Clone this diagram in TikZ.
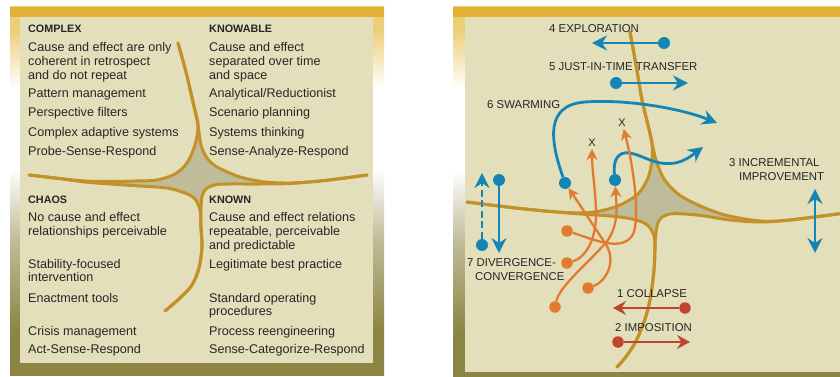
\documentclass[tikz,border=0pt]{standalone}
\usepackage{fontspec}
\setmainfont{Liberation Sans}
\usetikzlibrary{arrows.meta}
\definecolor{gold}{RGB}{226,178,52}
\definecolor{olive}{RGB}{140,133,68}
\definecolor{cream}{RGB}{227,223,186}
\definecolor{curvec}{RGB}{196,145,40}
\definecolor{starfill}{RGB}{190,188,153}
\definecolor{txt}{RGB}{38,38,38}
\definecolor{blu}{RGB}{20,134,181}
\definecolor{orng}{RGB}{226,122,48}
\definecolor{redd}{RGB}{192,68,48}
\definecolor{palegold}{RGB}{236,205,120}
\definecolor{greyolive}{RGB}{190,186,150}
\pgfdeclareverticalshading{sideshade}{100bp}{color(0bp)=(olive); color(31bp)=(olive); color(43bp)=(greyolive); color(53bp)=(white); color(64bp)=(white); color(72bp)=(palegold); color(100bp)=(palegold)}
\begin{document}
\begin{tikzpicture}[x=1pt,y=-1pt,
  goldline/.style={draw=curvec, line width=3pt, line cap=round, line join=round},
  body/.style={anchor=base west, align=left, inner sep=0pt, text=txt, font=\fontsize{12.6}{13.8}\selectfont},
  head/.style={anchor=base west, inner sep=0pt, text=txt, font=\bfseries\fontsize{10.8}{13}\selectfont},
  lab/.style={anchor=base west, inner sep=0pt, text=txt, font=\fontsize{11.4}{13.8}\selectfont},
  xlab/.style={inner sep=2pt, text=txt, font=\fontsize{11}{11}\selectfont},
  bdot/.style={circle, fill=blu, inner sep=0pt, minimum size=12pt},
  odot/.style={circle, fill=orng, inner sep=0pt, minimum size=11.5pt},
  rdot/.style={circle, fill=redd, inner sep=0pt, minimum size=11.5pt},
  barrow/.style={draw=blu, line width=2.8pt, -{Stealth[length=15pt,width=15pt,inset=5pt]}},
  bboth/.style={draw=blu, line width=2.8pt, {Stealth[length=15pt,width=15pt,inset=5pt]}-{Stealth[length=15pt,width=15pt,inset=5pt]}},
  oarrow/.style={draw=orng, line width=2.3pt, -{Stealth[length=11pt,width=11pt,inset=3.5pt]}},
  rarrow/.style={draw=redd, line width=2.8pt, -{Stealth[length=13pt,width=14pt,inset=4.5pt]}}
]
\useasboundingbox (0,0) rectangle (840,377);
\fill[white] (0,0) rectangle (840,377);
% ---------- left panel frame
\path[shading=sideshade] (10,7) rectangle (384,375);
\fill[gold] (10,7) rectangle (384,17);
\fill[olive] (10,363) rectangle (384,375);
\fill[cream] (20,17) rectangle (373,363);
% ---------- right panel frame
\path[shading=sideshade] (453,7) rectangle (840,377);
\fill[gold] (453,7) rectangle (840,17);
\fill[olive] (453,372) rectangle (840,377);
\fill[cream] (465,17) rectangle (840,372);

% ---------- left star
\fill[starfill] plot[smooth] coordinates {(85,182) (110,181.5) (135,181) (157,180) (175,174) (187,163) (195,145) (198,125)}
 -- plot[smooth] coordinates {(198,125) (201,145) (207,158) (217,167) (240,177) (265,182) (285,183)}
 -- plot[smooth] coordinates {(285,183.5) (260,184) (230,184) (217,184.5) (207,188) (202,196) (201,210) (201,228)}
 -- plot[smooth] coordinates {(201,228) (200,210) (195,199) (185,193) (167,188) (140,186) (110,184) (85,182)} -- cycle;
\draw[goldline] plot[smooth] coordinates {(29,175) (55,178) (85,181) (110,181.5) (135,181) (157,180) (175,174) (187,163) (195,145) (198,125) (193,102) (186,72) (178,43)};
\draw[goldline] plot[smooth] coordinates {(178,43) (186,72) (193,102) (198,125) (201,145) (207,158) (217,167) (240,177) (265,182) (290,183) (320,181) (345,178) (367,175)};
\draw[goldline] plot[smooth] coordinates {(29,175) (55,178) (85,182) (110,184) (140,186) (167,188) (185,193) (195,199) (200,210) (201,228) (202,247) (199,268) (192,285) (180,298) (165,311)};
\draw[goldline] plot[smooth] coordinates {(367,175) (345,178) (320,181) (290,183.5) (260,184) (230,184) (217,184.5) (207,188) (202,196) (201,210) (201,228) (202,247) (199,268) (192,285) (180,298) (165,311)};

% ---------- right star
\fill[starfill] plot[smooth] coordinates {(580,213) (600,211) (620,205) (638,194) (648,178) (652,160) (652,143)}
 -- plot[smooth] coordinates {(652,143) (656,160) (664,179) (678,194) (698,205) (725,215) (745,220)}
 -- plot[smooth] coordinates {(745,221) (730,220) (705,216) (685,214) (670,214) (661,218) (657,226) (655,245)}
 -- plot[smooth] coordinates {(655,245) (653,233) (646,224) (632,219) (610,216) (580,214)} -- cycle;
\draw[goldline] plot[smooth] coordinates {(630,32) (636,65) (642,100) (648,125) (652,143) (652,160) (648,178) (638,194) (620,205) (600,211) (580,213) (545,211) (507,207) (467,202)};
\draw[goldline] plot[smooth] coordinates {(630,32) (636,65) (642,100) (648,125) (652,143) (656,160) (664,179) (678,194) (698,205) (725,215) (760,221) (790,220) (845,213)};
\draw[goldline] plot[smooth] coordinates {(467,202) (507,207) (545,211) (580,214) (610,216) (632,219) (646,224) (653,233) (655,245) (654,270) (650,300) (644,322) (635,343) (625,358) (617,367)};
\draw[goldline] plot[smooth] coordinates {(845,213) (790,220) (760,222) (730,220) (705,216) (685,214) (670,214) (661,218) (657,226) (655,245) (654,270) (650,300) (644,322) (635,343) (625,358) (617,367)};

% ---------- left panel text (base = baseline of last line)
\node[head] (hcomplex) at (28,32.7) {COMPLEX};
\node[body] (c1) at (28,79.6) {Cause and effect are only\\coherent in retrospect\\and do not repeat};
\node[body] (c2) at (28,98) {Pattern management};
\node[body] (c3) at (28,117) {Perspective filters};
\node[body] (c4) at (28,136) {Complex adaptive systems};
\node[body] (c5) at (28,155) {Probe-Sense-Respond};
\node[head] (hknowable) at (209,32.7) {KNOWABLE};
\node[body] (k1) at (209,79.6) {Cause and effect\\separated over time\\and space};
\node[body] (k2) at (209,98) {Analytical/Reductionist};
\node[body] (k3) at (209,117) {Scenario planning};
\node[body] (k4) at (209,136) {Systems thinking};
\node[body] (k5) at (209,155) {Sense-Analyze-Respond};
\node[head] (hchaos) at (28,203) {CHAOS};
\node[body] (h1) at (28,235.5) {No cause and effect\\relationships perceivable};
\node[body] (h2) at (28,281.8) {Stability-focused\\intervention};
\node[body] (h3) at (28,302) {Enactment tools};
\node[body] (h4) at (28,335) {Crisis management};
\node[body] (h5) at (28,353) {Act-Sense-Respond};
\node[head] (hknown) at (209,203) {KNOWN};
\node[body] (n1) at (209,249.3) {Cause and effect relations\\repeatable, perceivable\\and predictable};
\node[body] (n2) at (209,268) {Legitimate best practice};
\node[body] (n3) at (209,315.8) {Standard operating\\procedures};
\node[body] (n4) at (209,335) {Process reengineering};
\node[body] (n5) at (209,353) {Sense-Categorize-Respond};

% ---------- right panel: blue
\node[bdot] (d4) at (664,43) {};
\coordinate (t4) at (592,43);
\draw[barrow] (d4) -- (t4);
\node[bdot] (d5) at (616,83) {};
\coordinate (t5) at (688,83);
\draw[barrow] (d5) -- (t5);
\node[bdot] (sw) at (565,183) {};
\coordinate (t6) at (717,123);
\draw[barrow] (sw) .. controls (550,140) and (545,105) .. (585,102) .. controls (625,99) and (680,108) .. (t6);
\node[bdot] (b2) at (615,180) {};
\coordinate (t6b) at (703,147);
\draw[barrow] (b2) .. controls (613,160) and (618,151) .. (630,153) .. controls (645,156) and (655,166) .. (675,163) .. controls (686,161) and (695,153) .. (t6b);
\coordinate (ia) at (815,189);
\coordinate (ib) at (815,253);
\draw[bboth] (ia) -- (ib);
\node[bdot] (dv) at (482,245) {};
\coordinate (dvt) at (482,173);
\draw[barrow, dash pattern=on 7pt off 3.5pt] (dv) -- (dvt);
\node[bdot] (cv) at (499,180) {};
\coordinate (cvt) at (499,253);
\draw[barrow] (cv) -- (cvt);

% ---------- orange
\node[xlab] (x1) at (592,143) {X};
\node[xlab] (x2) at (622,123) {X};
\node[odot] (o1) at (567,231) {};
\node[odot] (o2) at (567,263) {};
\node[odot] (o3) at (588,288) {};
\node[odot] (o4) at (555,307) {};
\draw[oarrow] (o1) .. controls (590,238) and (625,255) .. (634,232) .. controls (640,210) and (632,160) .. (x2);
\draw[oarrow] (o2) .. controls (585,258) and (597,240) .. (596,210) .. controls (595,185) and (592,170) .. (x1);
\draw[oarrow] (o3) .. controls (605,282) and (618,262) .. (605,243) .. controls (595,228) and (580,205) .. (sw);
\draw[oarrow] (o4) .. controls (560,285) and (590,262) .. (608,240) .. controls (620,222) and (616,200) .. (b2);

% ---------- red
\node[rdot] (r1) at (685,308) {};
\coordinate (r1t) at (613,308);
\draw[rarrow] (r1) -- (r1t);
\node[rdot] (r2) at (618,342) {};
\coordinate (r2t) at (690,342);
\draw[rarrow] (r2) -- (r2t);

% ---------- right panel labels
\node[lab] (l4) at (549,32.3) {4 EXPLORATION};
\node[lab] (l5) at (549,71) {5 JUST-IN-TIME TRANSFER};
\node[lab] (l6) at (487,109) {6 SWARMING};
\node[lab] (l3a) at (729,166) {3 INCREMENTAL};
\node[lab] (l3b) at (739,180) {IMPROVEMENT};
\node[lab] (l7a) at (467,266) {7 DIVERGENCE-};
\node[lab] (l7b) at (475,280.5) {CONVERGENCE};
\node[lab] (l1) at (617,297) {1 COLLAPSE};
\node[lab] (l2) at (615,331) {2 IMPOSITION};
\end{tikzpicture}
\end{document}
